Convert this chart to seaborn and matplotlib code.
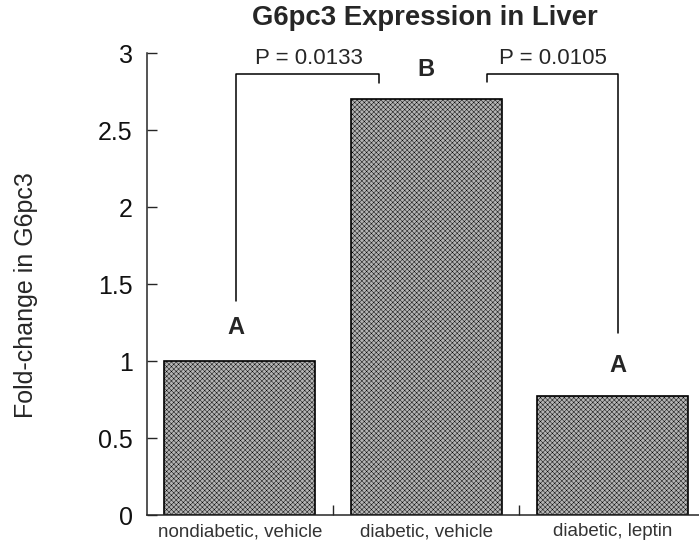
import matplotlib
matplotlib.use("Agg")
import matplotlib.pyplot as plt
import pandas as pd
import seaborn as sns

# Hepatic G6pc3 expression per treatment group
groups = ["nondiabetic, vehicle", "diabetic, vehicle", "diabetic, leptin"]
fold_change = [1.0, 2.7, 0.77]
group_letters = ["A", "B", "A"]
p_labels = ["P = 0.0133", "P = 0.0105"]
y_ticks = [0, 0.5, 1, 1.5, 2, 2.5, 3]
y_tick_labels = ["0", "0.5", "1", "1.5", "2", "2.5", "3"]

sns.set_style("ticks")
plt.rcParams["font.family"] = ["Liberation Sans", "DejaVu Sans"]
plt.rcParams["hatch.linewidth"] = 0.32

fig = plt.figure(figsize=(6.99, 5.51), dpi=100)
ax = fig.add_axes([0.2096, 0.0653, 0.8004, 0.8385])

df = pd.DataFrame({"group": groups, "fold": fold_change})
sns.barplot(data=df, x="group", y="fold", color="#b4b4b4", saturation=1,
            edgecolor="black", linewidth=1.2, width=0.81, ax=ax)
for bar in ax.patches:
    bar.set_hatch("xxxxxxx")

ax.set_xlim(-0.5, 2.5)
ax.set_ylim(0, 3)
ax.set_yticks(y_ticks)
ax.set_yticklabels(y_tick_labels)
ax.set_xticks([0.5, 1.5], minor=True)
ax.tick_params(axis="y", direction="in", length=7, width=1, pad=10,
               labelsize=18, labelcolor="#111111")
ax.tick_params(axis="x", which="major", length=0, pad=6, labelsize=13.5,
               labelcolor="#333333")
ax.tick_params(axis="x", which="minor", direction="in", length=7, width=1)
ax.set_xlabel("")
ax.set_ylabel("Fold-change in G6pc3", fontsize=18, va="center")
ax.yaxis.set_label_coords(-0.215, 0.476)
sns.despine(ax=ax, top=True, right=True)
for side in ("left", "bottom"):
    ax.spines[side].set_linewidth(1.1)

# Group letters over the bars
letter_pos = [(-0.02, 1.22), (1.0, 2.89), (2.03, 0.97)]
for (x, y), letter in zip(letter_pos, group_letters):
    ax.text(x, y, letter, ha="center", va="center", fontsize=17,
            fontweight="bold")

# Comparison brackets with P values
ax.plot([-0.02, -0.02, 0.748, 0.748], [1.39, 2.864, 2.864, 2.805],
        color="black", lw=1.1, clip_on=False)
ax.plot([1.327, 1.327, 2.03, 2.03], [2.81, 2.864, 2.864, 1.18],
        color="black", lw=1.1, clip_on=False)
ax.text(0.373, 2.965, p_labels[0], ha="center", va="center", fontsize=16)
ax.text(1.68, 2.965, p_labels[1], ha="center", va="center", fontsize=16)

fig.text(0.608, 0.967, "G6pc3 Expression in Liver", ha="center",
         va="center", fontsize=19.8, fontweight="bold")

fig.savefig("out.png", dpi=100)
